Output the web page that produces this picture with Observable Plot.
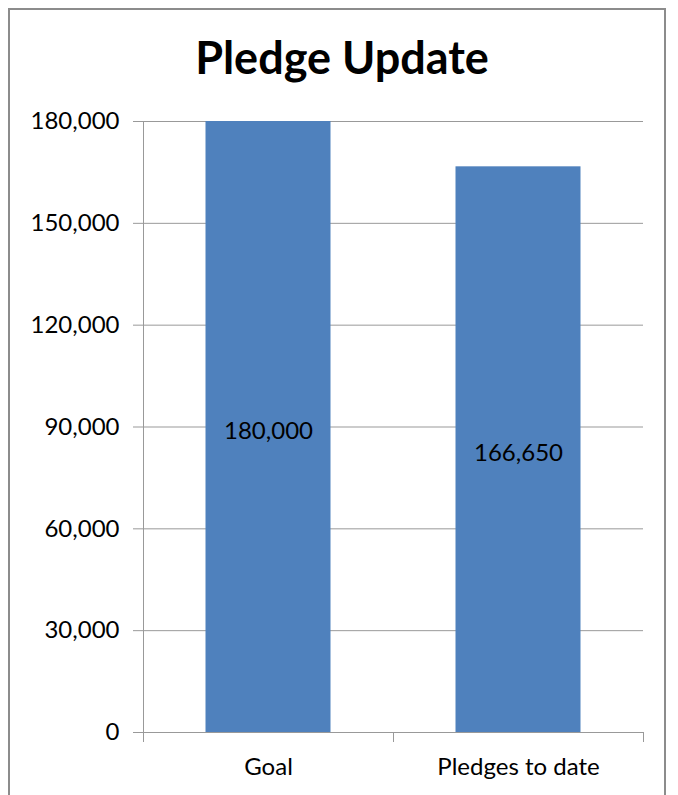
<!DOCTYPE html>
<html>
<head>
<meta charset="utf-8">
<script src="https://cdn.jsdelivr.net/npm/d3@7"></script>
<script src="https://cdn.jsdelivr.net/npm/@observablehq/plot@0.6"></script>
<style>
  html, body { margin: 0; padding: 0; background: #fff; overflow: hidden; }
  #wrap { position: relative; width: 678px; height: 795px; }
  #frame { position: absolute; left: 8px; top: 8px; width: 658px; height: 820px;
           border: 2px solid #8c8c8c; box-sizing: border-box; pointer-events: none; }
  #title { position: absolute; left: 0; top: 0; width: 678px; height: 90px;
           text-align: center; font-family: Lato, "Open Sans", sans-serif; font-weight: bold;
           font-size: 45px; line-height: 1; padding-top: 35px; box-sizing: border-box; color: #000; padding-left: 6px; }
  #chart { position: absolute; left: 0; top: 90px; }
</style>
</head>
<body>
<div id="wrap">
  <div id="title">Pledge Update</div>
  <div id="chart"></div>
  <div id="frame"></div>
</div>
<script>
const categories = ["Goal", "Pledges to date"];
const values = [180000, 166650];
const yTicks = [0, 30000, 60000, 90000, 120000, 150000, 180000];

const data = categories.map((c, i) => ({category: c, index: i, value: values[i]}));
const fmt = d3.format(",");
const font = "Lato, 'Open Sans', sans-serif";

const chart = Plot.plot({
  width: 678,
  height: 705,
  marginTop: 31,
  marginBottom: 63,
  marginLeft: 143,
  marginRight: 35,
  style: {fontFamily: font, fontSize: "24px", color: "#000", background: "transparent"},
  x: {domain: [0, categories.length], axis: null},
  y: {domain: [0, 180000], axis: null},
  marks: [
    Plot.ruleY(yTicks, {stroke: "#999", strokeWidth: 1}),
    Plot.rectY(data, {x1: d => d.index + 0.25, x2: d => d.index + 0.75, y: "value", fill: "#4f81bd"}),
    Plot.ruleX([0], {stroke: "#999", strokeWidth: 1}),
    Plot.axisY({ticks: yTicks, tickFormat: fmt, tickSize: 10, tickPadding: 14, stroke: "#999", fill: "#000", fontSize: 24, label: null}),
    Plot.axisX({ticks: d3.range(categories.length + 1), tickFormat: () => "", tickSize: 10, stroke: "#999", label: null}),
    Plot.axisX({ticks: data.map(d => d.index + 0.5), tickFormat: t => categories[Math.round(t - 0.5)], tickSize: 0, tickPadding: 25, fill: "#000", fontSize: 24, label: null}),
    Plot.text(data, {x: d => d.index + 0.5, y: d => d.value / 2, dy: 4, text: d => fmt(d.value), fill: "#000", fontSize: 24})
  ]
});
document.getElementById("chart").appendChild(chart);
</script>
</body>
</html>
